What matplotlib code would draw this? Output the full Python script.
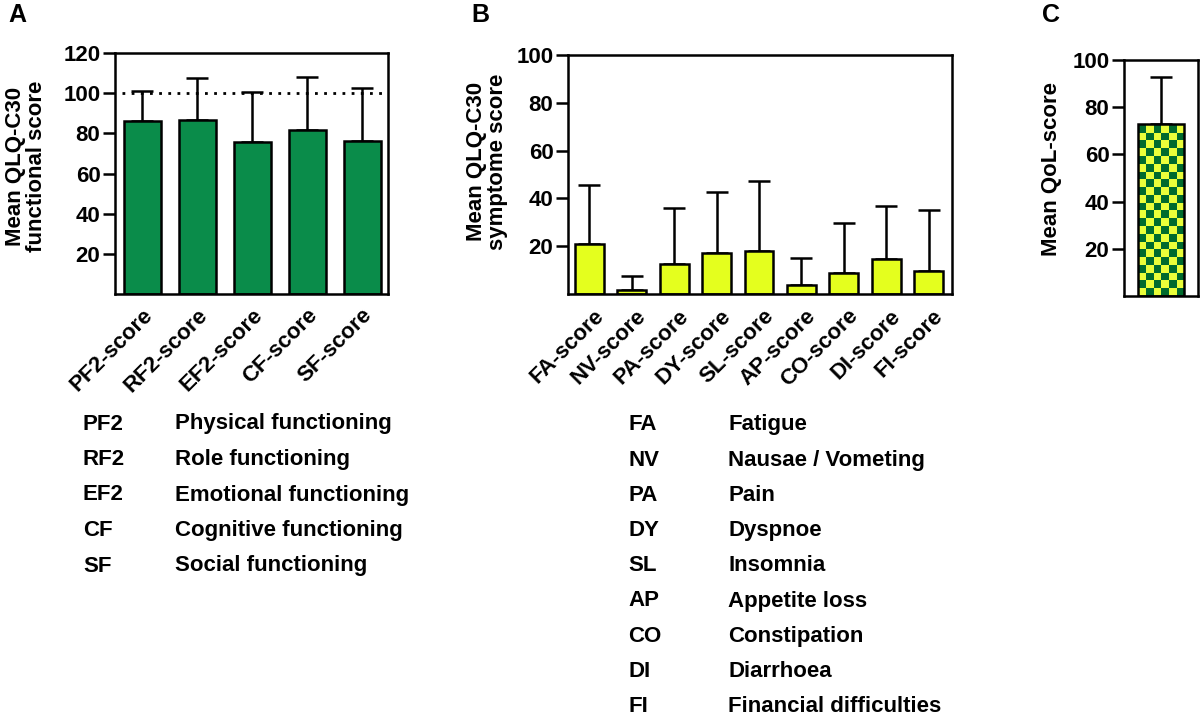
import numpy as np
import matplotlib
matplotlib.use("Agg")
import matplotlib.pyplot as plt
from matplotlib.colors import ListedColormap
from matplotlib.transforms import ScaledTranslation

plt.rcParams['font.family'] = ['Liberation Sans', 'DejaVu Sans']
plt.rcParams['font.weight'] = 'bold'
plt.rcParams['axes.labelweight'] = 'bold'

# ---------------- data ----------------
func_labels = ["PF2-score", "RF2-score", "EF2-score", "CF-score", "SF-score"]
func_means = [86, 86.5, 75.5, 81.5, 76]
func_sd = [15, 21, 25, 26.5, 26.5]
func_yticks = [20, 40, 60, 80, 100, 120]

sym_labels = ["FA-score", "NV-score", "PA-score", "DY-score", "SL-score",
              "AP-score", "CO-score", "DI-score", "FI-score"]
sym_means = [21, 1.5, 12.5, 17, 18.2, 3.6, 8.6, 14.5, 9.6]
sym_sd = [24.5, 6, 23.5, 25.5, 29, 11.3, 21, 22.4, 25.5]
sym_yticks = [20, 40, 60, 80, 100]

qol_mean = [73]
qol_sd = [20]
qol_yticks = [20, 40, 60, 80, 100]

func_abbr = ["PF2", "RF2", "EF2", "CF", "SF"]
func_desc = ["Physical functioning", "Role functioning", "Emotional functioning",
             "Cognitive functioning", "Social functioning"]
sym_abbr = ["FA", "NV", "PA", "DY", "SL", "AP", "CO", "DI", "FI"]
sym_desc = ["Fatigue", "Nausae / Vometing", "Pain", "Dyspnoe", "Insomnia",
            "Appetite loss", "Constipation", "Diarrhoea", "Financial difficulties"]

GREEN = "#0a8c4a"
YELLOW = "#e4ff1e"
DKGREEN = "#006b2e"
CHKYEL = "#eaff3a"

FS = 16
LW = 1.8

fig = plt.figure(figsize=(12, 7.21), dpi=100)
W, H = 1200, 721


def axes_px(left, top, right, bottom):
    return fig.add_axes([left / W, 1 - bottom / H, (right - left) / W, (bottom - top) / H])


def style(ax, yticks, ylim):
    ax.set_ylim(*ylim)
    ax.set_yticks(yticks)
    for s in ax.spines.values():
        s.set_linewidth(LW)
    ax.tick_params(axis='y', length=8.5, width=LW, pad=2, labelsize=FS)
    ax.tick_params(axis='x', length=0, labelsize=FS)
    for t in ax.get_yticklabels():
        t.set_fontweight('bold')


def err(ax, x, m, sd):
    ax.errorbar(x, m, yerr=[np.zeros(len(m)), sd], fmt='none', ecolor='black',
                elinewidth=LW, capsize=8, capthick=LW, zorder=1)


def xlabels(ax, labels, dx, dy):
    ax.set_xticks(np.arange(len(labels)))
    ax.set_xticklabels(labels, rotation=45, ha='right', va='center',
                       rotation_mode='anchor', fontsize=FS, fontweight='bold')
    off = ScaledTranslation(dx / 100, -dy / 100, fig.dpi_scale_trans)
    for t in ax.get_xticklabels():
        t.set_transform(t.get_transform() + off)


# ---------------- Panel A ----------------
axA = axes_px(115, 53, 388, 294)
xa = np.arange(len(func_means))
axA.bar(xa, func_means, width=0.67, color=GREEN, edgecolor='black', linewidth=LW, zorder=2)
err(axA, xa, func_means, func_sd)
axA.axhline(100, xmin=0.025, xmax=0.99, color='black', linestyle=(0, (1, 2.3)), linewidth=2, zorder=0)
axA.set_xlim(-0.5, 4.47)
style(axA, func_yticks, (0, 120))
xlabels(axA, func_labels, 7, 13)
axA.set_ylabel("Mean QLQ-C30\nfunctional score", fontsize=FS, fontweight='bold', linespacing=1.0)
axA.yaxis.set_label_coords(-0.25, 0.53)

# ---------------- Panel B ----------------
axB = axes_px(568, 55, 952, 294)
xb = np.arange(len(sym_means))
axB.bar(xb, sym_means, width=0.68, color=YELLOW, edgecolor='black', linewidth=LW, zorder=2)
err(axB, xb, sym_means, sym_sd)
axB.set_xlim(-0.5, 8.55)
style(axB, sym_yticks, (0, 100))
xlabels(axB, sym_labels, 11.5, 14)
axB.set_ylabel("Mean QLQ-C30\nsymptome score", fontsize=FS, fontweight='bold', linespacing=1.0)
axB.yaxis.set_label_coords(-0.155, 0.555)

# ---------------- Panel C ----------------
axC = axes_px(1124, 60, 1198, 296)
xc = np.arange(len(qol_mean))
axC.set_xlim(-0.78, 0.78)
style(axC, qol_yticks, (0, 100))
axC.set_xticks([])
bars = axC.bar(xc, qol_mean, width=0.98, color='none', edgecolor='black', linewidth=LW, zorder=3)
err(axC, xc, qol_mean, qol_sd)
# checkerboard fill clipped to the bar
p = bars[0]
x0, w, h = p.get_x(), p.get_width(), p.get_height()
T = axC.transData
px_w = T.transform((x0 + w, 0))[0] - T.transform((x0, 0))[0]
px_h = T.transform((0, h))[1] - T.transform((0, 0))[1]
cell = 8.2
nx = int(round(px_w / cell))
ny = int(np.ceil(px_h / (px_w / nx)))
board = (np.add.outer(np.arange(ny), np.arange(nx)) % 2)
img_h = ny * (px_w / nx) * h / px_h
im = axC.imshow(board, cmap=ListedColormap([CHKYEL, DKGREEN]), interpolation='nearest',
                extent=(x0, x0 + w, 0, img_h), origin='lower', aspect='auto', zorder=2)
im.set_clip_path(p)
axC.set_xlim(-0.78, 0.78)
axC.set_ylim(0, 100)
axC.set_ylabel("Mean QoL-score", fontsize=FS, fontweight='bold')
axC.yaxis.set_label_coords(-0.84, 0.54)

# ---------------- panel letters ----------------
fig.text(8 / W, 1 - 15 / H, "A", fontsize=18, fontweight='bold', va='center', ha='left')
fig.text(471 / W, 1 - 15 / H, "B", fontsize=18, fontweight='bold', va='center', ha='left')
fig.text(1042 / W, 1 - 15 / H, "C", fontsize=18, fontweight='bold', va='center', ha='left')

# ---------------- abbreviation lists ----------------
for i, (a, d) in enumerate(zip(func_abbr, func_desc)):
    y = 424 + i * 35.5
    fig.text(83 / W, 1 - y / H, a, fontsize=FS, fontweight='bold', va='center', ha='left')
    fig.text(175 / W, 1 - y / H, d, fontsize=FS, fontweight='bold', va='center', ha='left')

for i, (a, d) in enumerate(zip(sym_abbr, sym_desc)):
    y = 425 + i * 35.2
    fig.text(628 / W, 1 - y / H, a, fontsize=FS, fontweight='bold', va='center', ha='left')
    fig.text(728 / W, 1 - y / H, d, fontsize=FS, fontweight='bold', va='center', ha='left')

fig.savefig("out.png", dpi=100)
